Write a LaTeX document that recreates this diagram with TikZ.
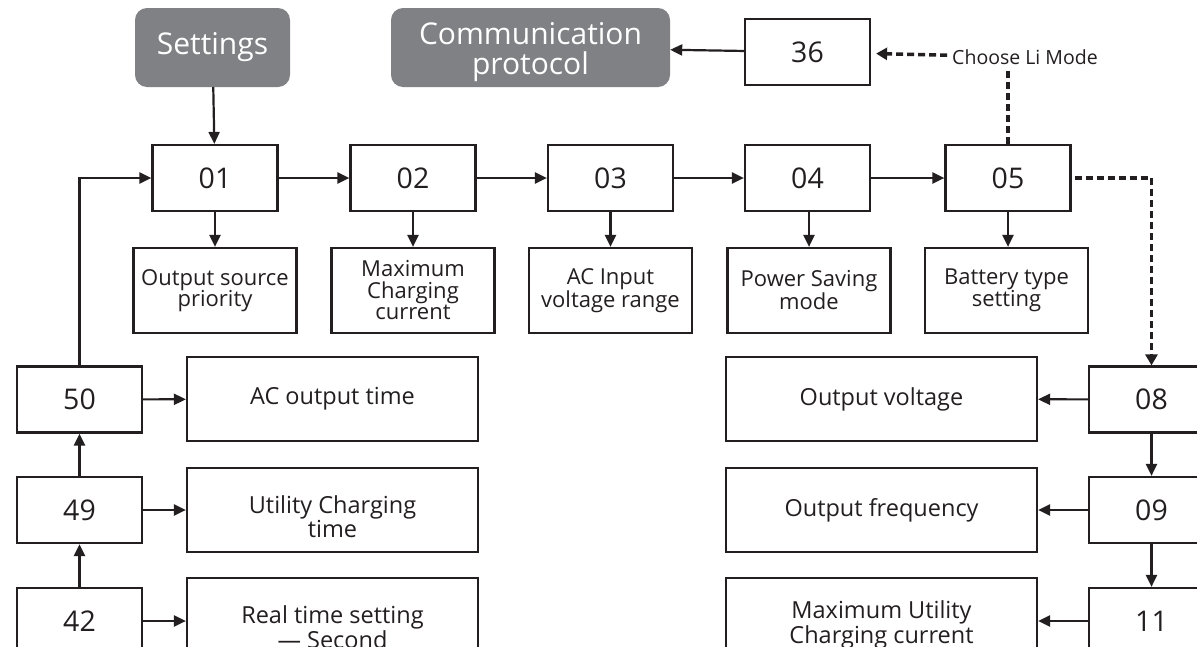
\documentclass[tikz,border=0pt]{standalone}
\usepackage{fontspec}
\setmainfont{Open Sans}
\usetikzlibrary{arrows.meta}
\definecolor{ink}{HTML}{231F20}
\definecolor{hdr}{HTML}{808185}
\begin{document}
\begin{tikzpicture}[x=1pt,y=-1pt,
  hdrbox/.style={fill=hdr,rounded corners=12pt,text=white,align=center,inner sep=0pt,
     font=\fontsize{30}{30}\selectfont},
  numbox/.style={draw=ink,line width=2.2pt,minimum width=125pt,minimum height=66pt,inner sep=0pt,
     text=ink,font=\fontsize{28.5}{30}\selectfont},
  subbox/.style={draw=ink,line width=2.2pt,minimum width=163pt,minimum height=85pt,inner sep=0pt,
     text=ink,align=center,font=\fontsize{22}{21.5}\selectfont},
  wideboxL/.style={draw=ink,line width=2.2pt,minimum width=291pt,minimum height=84pt,inner sep=0pt},
  wideboxR/.style={wideboxL,minimum width=311pt},
  widetext/.style={text=ink,align=center,inner sep=0pt,font=\fontsize{23.5}{22.5}\selectfont},
  arr/.style={draw=ink,line width=2.2pt,-{Triangle[length=12pt,width=11pt]}},
  darr/.style={draw=ink,line width=3.5pt,dash pattern=on 7pt off 4pt,-{Triangle[length=11pt,width=12pt]}},
  dline/.style={draw=ink,line width=3.5pt,dash pattern=on 7pt off 4pt}
]
\clip (0,0) rectangle (1197,646);
\fill[white] (0,0) rectangle (1197,646);

% header boxes
\node[hdrbox,minimum width=155pt,minimum height=79pt] (set) at (212.5,47.5) {Settings};
\node[hdrbox,minimum width=279pt,minimum height=79pt,
  label={[text=white,align=center,inner sep=0pt,font=\fontsize{30}{30}\selectfont,yshift=-4.5pt]center:Communication\\protocol}]
  (comm) at (530.5,47.5) {};
\node[numbox] (b36) at (807.5,52) {36};
\node[text=ink,inner sep=0pt,font=\fontsize{19.5}{20}\selectfont] (li) at (1025,57) {Choose Li Mode};

% row of settings
\node[numbox] (b01) at (215,178) {01};
\node[numbox] (b02) at (413,178) {02};
\node[numbox] (b03) at (610.5,178) {03};
\node[numbox] (b04) at (807.5,178) {04};
\node[numbox] (b05) at (1008,178) {05};

\node[subbox] (s01) at (215,290.5) {Output source\\priority};
\node[subbox] (s02) at (413,290.5) {Maximum\\Charging\\current};
\node[subbox] (s03) at (610.5,290.5) {AC Input\\voltage range};
\node[subbox] (s04) at (809,290.5) {Power Saving\\mode};
\node[subbox] (s05) at (1006.5,290.5) {Battery type\\setting};

% left column
\node[numbox] (b50) at (79.5,399.5) {50};
\node[numbox] (b49) at (79.5,510) {49};
\node[numbox] (b42) at (79.5,621) {42};
\node[wideboxL,label={[widetext]center:AC output time}] (t50) at (332.5,399) {};
\node[wideboxL,label={[widetext,yshift=-7pt]center:Utility Charging\\time}] (t49) at (332.5,510) {};
\node[wideboxL,label={[widetext,yshift=-7pt]center:Real time setting\\— Second}] (t42) at (332.5,620) {};

% right column
\node[numbox] (b08) at (1151.5,399.5) {08};
\node[numbox] (b09) at (1151.5,510) {09};
\node[numbox] (b11) at (1151.5,621) {11};
\node[wideboxR,label={[widetext]center:Output voltage}] (t08) at (881.5,399) {};
\node[wideboxR,label={[widetext]center:Output frequency}] (t09) at (881.5,510) {};
\node[wideboxR,label={[widetext,yshift=-5pt]center:Maximum Utility\\Charging current}] (t11) at (881.5,620) {};

% connectors
\draw[arr] (set) -- (b01);
\draw[arr] (b36) -- (comm);
\draw[darr,shorten <=5pt,shorten >=5pt] (li) -- (b36);
\draw[dline] (b05.north) -- ([yshift=-4pt]b05.north |- li.south);
\draw[arr] (b01) -- (s01);
\draw[arr] (b01) -- (b02);
\draw[arr] (b02) -- (b03);
\draw[arr] (b03) -- (b04);
\draw[arr] (b04) -- (b05);
\draw[arr] (b02) -- (s02);
\draw[arr] (b03) -- (s03);
\draw[arr] (b04.south -| s04.north) -- (s04.north);
\draw[arr] (b05) -- (b05 |- s05.north);
\draw[darr,shorten <=3pt] (b05.east) -| (b08.north);

\draw[arr] (b42) -- (b49);
\draw[arr] (b49) -- (b50);
\draw[arr] (b50.north) |- (b01.west);
\draw[arr] (b50) -- (t50);
\draw[arr] (b49) -- (t49);
\draw[arr] (b42) -- (t42.west |- b42);

\draw[arr] (b08) -- (b09);
\draw[arr] (b09) -- (b11);
\draw[arr] (b08) -- (t08);
\draw[arr] (b09) -- (t09);
\draw[arr] (b11) -- (t11.east |- b11);
\end{tikzpicture}
\end{document}
